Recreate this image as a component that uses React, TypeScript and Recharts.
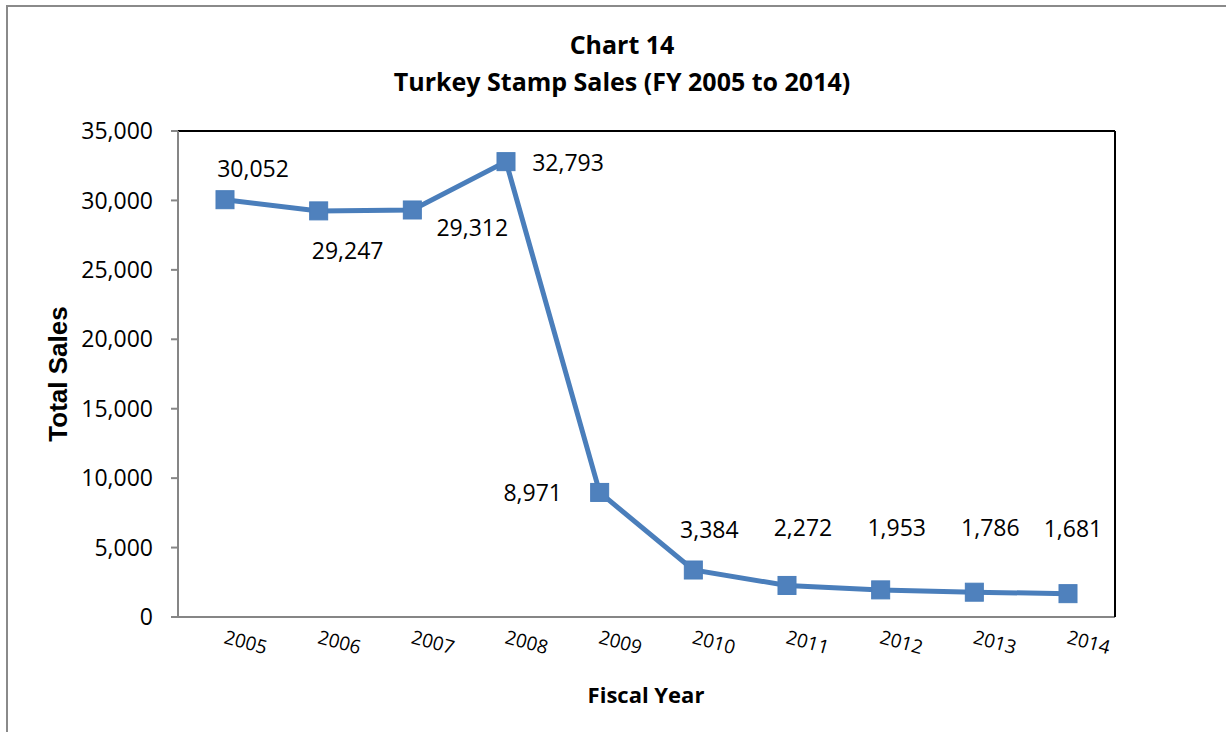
import React from "react";
import { LineChart, Line, XAxis, YAxis, CartesianGrid, LabelList } from "recharts";

const years = ["2005", "2006", "2007", "2008", "2009", "2010", "2011", "2012", "2013", "2014"];
const sales = [30052, 29247, 29312, 32793, 8971, 3384, 2272, 1953, 1786, 1681];
const yTicks = [0, 5000, 10000, 15000, 20000, 25000, 30000, 35000];

// label offsets (style only): dx, dy from point to label centre
const labelOffsets: [number, number][] = [
  [28, -32], [29, 39], [60, 17], [62, 0], [-67, 0],
  [16, -41], [16, -58], [16, -63], [16, -65], [5, -66],
];

const data = years.map((y, i) => ({ year: y, sales: sales[i] }));

const FONT = "'Open Sans', sans-serif";
const fmt = (v: number) => v.toLocaleString("en-US");

const SquareDot = (props: any) => {
  const { cx, cy } = props;
  if (cx == null || cy == null) return null;
  const s = 18;
  return (
    <rect x={cx - s / 2} y={cy - s / 2} width={s} height={s} fill="#4F81BD" stroke="#4A7EBB" strokeWidth={1} />
  );
};

const ValueLabel = (props: any) => {
  const { x, y, value, index } = props;
  const [dx, dy] = labelOffsets[index] || [0, -30];
  return (
    <text x={x + dx} y={y + dy} textAnchor="middle" dominantBaseline="central" fontFamily={FONT} fontSize={23} fill="#000">
      {fmt(value)}
    </text>
  );
};

const XTick = (props: any) => {
  const { x, y, payload } = props;
  const tx = x - 2;
  const ty = y + 18;
  return (
    <text x={tx} y={ty} transform={`rotate(15 ${tx} ${ty})`} textAnchor="start" fontFamily={FONT} fontSize={19} fill="#000">
      {payload.value}
    </text>
  );
};

export default function App() {
  return (
    <div style={{ position: "absolute", left: 0, top: 0, width: 1226, height: 732, background: "#fff", overflow: "hidden" }}>
      <div style={{ position: "absolute", left: 6, top: 5, width: 1240, height: 800, border: "2px solid #8a8a8a", boxSizing: "border-box" }} />
      <div style={{ position: "absolute", left: 0, top: 26, width: 1244, textAlign: "center", fontFamily: FONT, fontWeight: 700, fontSize: 25, lineHeight: "37px", color: "#000" }}>
        <div>Chart 14</div>
        <div>Turkey Stamp Sales (FY 2005 to 2014)</div>
      </div>
      <div style={{ position: "absolute", left: 546, top: 677, width: 200, textAlign: "center", fontFamily: FONT, fontWeight: 700, fontSize: 22, lineHeight: "34px", color: "#000" }}>
        Fiscal Year
      </div>
      <div style={{ position: "absolute", left: 58, top: 374, width: 0, height: 0 }}>
        <div style={{ position: "absolute", left: -100, top: -16, width: 200, textAlign: "center", transform: "rotate(-90deg)", fontFamily: "'Liberation Sans', Arial, sans-serif", fontWeight: 700, fontSize: 26, lineHeight: "32px", color: "#000" }}>
          Total Sales
        </div>
      </div>
      <div style={{ position: "absolute", left: 0, top: 0 }}>
        <LineChart width={1226} height={732} data={data} margin={{ top: 130, right: 110, bottom: 55, left: 0 }}>
          <CartesianGrid horizontal vertical={false} stroke="#8c8c8c" strokeWidth={1.5} />
          <XAxis
            dataKey="year"
            xAxisId="bottom"
            orientation="bottom"
            height={60}
            padding={{ left: 47, right: 47 }}
            axisLine={{ stroke: "#868686", strokeWidth: 2 }}
            tickLine={false}
            tick={<XTick />}
            interval={0}
          />
          <XAxis dataKey="year" xAxisId="top" orientation="top" height={1} tick={false} tickLine={false} axisLine={{ stroke: "#000", strokeWidth: 2 }} padding={{ left: 47, right: 47 }} />
          <YAxis
            yAxisId="left"
            width={178}
            domain={[0, 35000]}
            ticks={yTicks}
            tickFormatter={fmt}
            axisLine={{ stroke: "#868686", strokeWidth: 2 }}
            tickLine={{ stroke: "#868686", strokeWidth: 2 }}
            tickSize={7}
            tickMargin={18}
            tick={{ fontFamily: FONT, fontSize: 23, fill: "#000" }}
            interval={0}
          />
          <YAxis yAxisId="right" orientation="right" width={1} domain={[0, 35000]} tick={false} tickLine={false} axisLine={{ stroke: "#000", strokeWidth: 2 }} />
          <Line
            xAxisId="bottom"
            yAxisId="left"
            dataKey="sales"
            stroke="#4A7EBB"
            strokeWidth={5}
            dot={<SquareDot />}
            activeDot={false}
            isAnimationActive={false}
          >
            <LabelList dataKey="sales" content={<ValueLabel />} />
          </Line>
        </LineChart>
      </div>
    </div>
  );
}
